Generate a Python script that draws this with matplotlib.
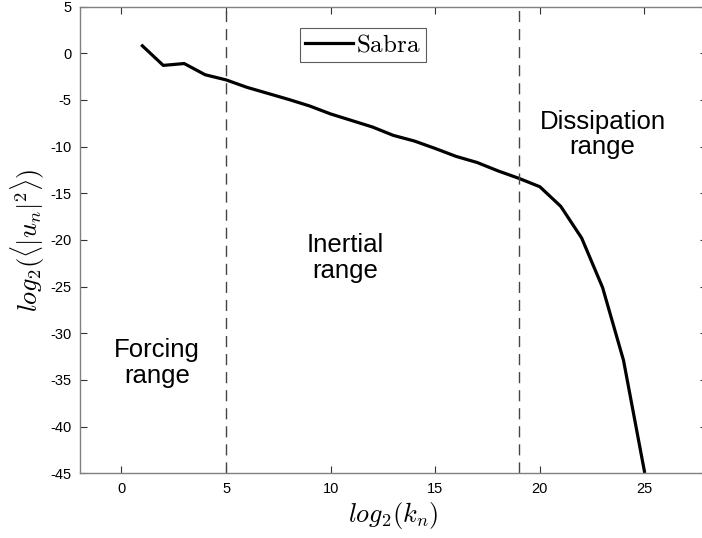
import matplotlib
matplotlib.use("Agg")
import matplotlib.pyplot as plt

plt.rcParams['mathtext.fontset'] = 'cm'
plt.rcParams['font.family'] = ['Liberation Sans', 'DejaVu Sans']
plt.rcParams['axes.unicode_minus'] = False

# Shell index n = log2(k_n) and mean shell energy log2(<|u_n|^2>)
shell_index = [1, 2, 3, 4, 5, 6, 7, 8, 9, 10, 11, 12, 13, 14, 15, 16, 17,
               18, 19, 20, 21, 22, 23, 24, 25]
log_energy = [0.8, -1.3, -1.1, -2.3, -2.85, -3.65, -4.3, -4.95, -5.65, -6.5,
              -7.2, -7.9, -8.8, -9.4, -10.2, -11.05, -11.7, -12.6, -13.4,
              -14.3, -16.4, -19.8, -25.1, -32.9, -44.8]
range_bounds = [5, 19]
region_labels = ["Forcing\nrange", "Inertial\nrange", "Dissipation\nrange"]
region_pos = [(1.7, -33.2), (10.7, -21.9), (23.0, -8.7)]
xticks = [0, 5, 10, 15, 20, 25]
yticks = [5, 0, -5, -10, -15, -20, -25, -30, -35, -40, -45]

W, H = 702, 538
fig = plt.figure(figsize=(W / 100, H / 100), dpi=100)
ax_left, ax_right = 79.6, 707.2
ax_top, ax_bottom = 6.6, 473.3
ax = fig.add_axes([ax_left / W, 1 - ax_bottom / H,
                   (ax_right - ax_left) / W, (ax_bottom - ax_top) / H])

ax.plot(shell_index, log_energy, color='black', lw=2.3, label=r'$\mathrm{Sabra}$',
        solid_joinstyle='round')
for xb in range_bounds:
    ax.axvline(xb, color='#444444', lw=1.0, ls=(0, (8, 5)))

for txt, (tx, ty) in zip(region_labels, region_pos):
    ax.text(tx, ty, txt, ha='center', va='center', fontsize=18.5,
            linespacing=1.1, color='black')

ax.set_xlim(-2, 28)
ax.set_ylim(-45, 5)
ax.set_xticks(xticks)
ax.set_yticks(yticks)
ax.tick_params(direction='in', length=5, width=0.8, color='#333333',
               labelsize=10.5, top=True, right=True, pad=6)
for side in ax.spines.values():
    side.set_color('#808080')
    side.set_linewidth(1.0)

ax.set_xlabel(r'$log_2(k_n)$', fontsize=19, labelpad=3)
ax.set_ylabel(r'$log_2(\langle|u_n|^2\rangle)$', fontsize=19, labelpad=2)

leg = ax.legend(loc='upper left', bbox_to_anchor=((300 - ax_left) / (ax_right - ax_left),
                (ax_bottom - 28) / (ax_bottom - ax_top)),
                fontsize=18, frameon=True, fancybox=False, handlelength=1.9,
                handletextpad=0.15, borderpad=0.2, borderaxespad=0)
leg.get_frame().set_edgecolor('#333333')
leg.get_frame().set_linewidth(0.8)

fig.savefig('out.png', dpi=100)
